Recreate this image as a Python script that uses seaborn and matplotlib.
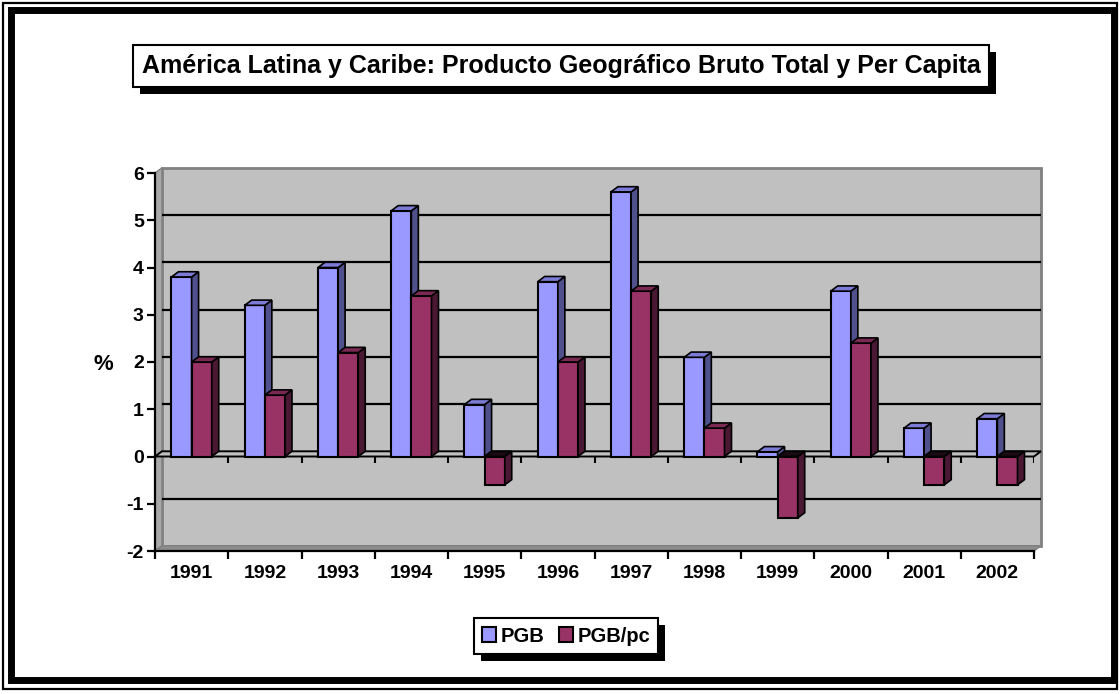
import numpy as np
import pandas as pd
import matplotlib.pyplot as plt
import seaborn as sns
from matplotlib.patches import Polygon, Rectangle, Patch

# ---------------- DATA ----------------
years = ["1991", "1992", "1993", "1994", "1995", "1996",
         "1997", "1998", "1999", "2000", "2001", "2002"]
pgb = [3.8, 3.2, 4.0, 5.2, 1.1, 3.7, 5.6, 2.1, 0.1, 3.5, 0.6, 0.8]
pgb_pc = [2.0, 1.3, 2.2, 3.4, -0.6, 2.0, 3.5, 0.6, -1.3, 2.4, -0.6, -0.6]
series = ["PGB", "PGB/pc"]
title = "América Latina y Caribe: Producto Geográfico Bruto Total y Per Capita"

front_colors = ["#9999FF", "#993366"]
side_colors = ["#50508C", "#4A1832"]
top_colors = ["#7C7CD6", "#7A2952"]

df = pd.DataFrame({
    "year": years * 2,
    "value": pgb + pgb_pc,
    "serie": [series[0]] * len(years) + [series[1]] * len(years),
})

# ---------------- STYLE ----------------
sns.set_theme(style="white")
plt.rcParams["font.family"] = ["Liberation Sans", "DejaVu Sans"]
plt.rcParams["font.weight"] = "bold"
plt.rcParams["axes.unicode_minus"] = False
plt.rcParams["text.color"] = "black"
plt.rcParams["xtick.color"] = "black"
plt.rcParams["ytick.color"] = "black"
plt.rcParams["xtick.labelcolor"] = "black"
plt.rcParams["ytick.labelcolor"] = "black"

W, H = 1120, 694
fig = plt.figure(figsize=(W / 100, H / 100), dpi=100)
fig.patch.set_facecolor("white")

def fx(px):
    return px / W

def fy(py):
    return 1 - py / H

def frame(x0, y0, x1, y1, lw):
    fig.patches.append(Rectangle((fx(x0), fy(y1)), fx(x1) - fx(x0), (y1 - y0) / H,
                                 transform=fig.transFigure, fill=False, ec="black",
                                 lw=lw, zorder=-5, joinstyle="miter"))

# outer double frame: thin outside, thick inside
frame(3, 3, 1117, 689, 1.6)
frame(11, 10, 1114, 680, 5.0)

ax = fig.add_axes([fx(155), fy(551), fx(1034) - fx(155), fy(173) - fy(551)])
ax.set_facecolor("none")

sns.barplot(data=df, x="year", y="value", hue="serie", palette=front_colors,
            saturation=1, width=0.55, edgecolor="black", linewidth=1.5, ax=ax,
            legend=False)

n = len(years)
ax.set_xlim(-0.5, n - 0.5)
ax.set_ylim(-2, 6)

# depth of the 3D effect, in data units
dx, dy = 0.095, 0.11
xl, xr = -0.5, n - 0.5

# back wall, left wall and floor
ax.add_patch(Rectangle((xl + dx, -2 + dy), n, 8, fc="#C0C0C0", ec="#808080",
                       lw=2, zorder=0, clip_on=False))
ax.add_patch(Polygon([(xl, -2), (xl + dx, -2 + dy), (xl + dx, 6 + dy), (xl, 6)],
                     closed=True, fc="#A8A8A8", ec="#808080", lw=1, zorder=0.5, clip_on=False))
ax.add_patch(Polygon([(xl, -2), (xr, -2), (xr + dx, -2 + dy), (xl + dx, -2 + dy)],
                     closed=True, fc="#8C8C8C", ec="#808080", lw=1, zorder=0.5, clip_on=False))

for g in [-1, 1, 2, 3, 4, 5]:
    ax.plot([xl + dx, xr + dx], [g + dy, g + dy], color="black", lw=1.6, zorder=1,
            clip_on=False, solid_capstyle="butt")

# floor at zero
ax.add_patch(Polygon([(xl, 0), (xr, 0), (xr + dx, dy), (xl + dx, dy)], closed=True,
                     fc="#C0C0C0", ec="black", lw=1.4, zorder=1.5, clip_on=False))
bounds = np.arange(-0.5, n, 1.0)
ax.vlines(bounds, -0.13, 0, color="black", lw=1.5, zorder=1.5)

# 3D faces of the bars
for i, cont in enumerate(ax.containers):
    for bar in cont:
        bar.set_zorder(3 + i * 0.2)
        x0, w = bar.get_x(), bar.get_width()
        y0, h = bar.get_y(), bar.get_height()
        lo, hi = min(y0, y0 + h), max(y0, y0 + h)
        side = Polygon([(x0 + w, lo), (x0 + w + dx, lo + dy), (x0 + w + dx, hi + dy), (x0 + w, hi)],
                       closed=True, fc=side_colors[i], ec="black", lw=1.2, zorder=3.1 + i * 0.2)
        top_c = top_colors[i] if h >= 0 else "#1A0A12"
        top = Polygon([(x0, hi), (x0 + dx, hi + dy), (x0 + w + dx, hi + dy), (x0 + w, hi)],
                      closed=True, fc=top_c, ec="black", lw=1.2, zorder=3.1 + i * 0.2)
        ax.add_patch(side)
        ax.add_patch(top)

# axes
for s in ["top", "right"]:
    ax.spines[s].set_visible(False)
for s in ["left", "bottom"]:
    ax.spines[s].set_color("black")
    ax.spines[s].set_linewidth(1.6)
    ax.spines[s].set_zorder(2)

ax.set_yticks(range(-2, 7))
ax.set_xticks(range(n))
ax.set_xticklabels(years)
ax.set_xticks(bounds, minor=True)
ax.tick_params(axis="y", which="major", direction="out", length=6, width=1.6,
               color="black", labelcolor="black", labelsize=14, pad=2, left=True)
ax.tick_params(axis="x", which="major", length=0, labelsize=14, pad=10, labelcolor="black")
ax.tick_params(axis="x", which="minor", direction="out", length=6, width=1.6,
               color="black", bottom=True)
for lab in ax.get_xticklabels() + ax.get_yticklabels():
    lab.set_fontweight("bold")
ax.set_xlabel("")
ax.set_ylabel("")
ax.grid(False)

fig.text(fx(103), fy(365), "%", ha="center", va="center", fontsize=16,
         fontweight="bold", color="black")

# title box
t = fig.text(fx(561), fy(66), title, ha="center", va="center", fontsize=18,
             fontweight="bold", color="black", zorder=3,
             bbox=dict(boxstyle="square,pad=0.35", fc="white", ec="black", lw=1.5))

# legend
handles = [Patch(fc=c, ec="black", lw=1.5) for c in front_colors]
leg = fig.legend(handles, series, loc="center", bbox_to_anchor=(fx(566), fy(636)),
                 ncol=2, frameon=True, fancybox=False, edgecolor="black", framealpha=1,
                 handlelength=0.7, handleheight=0.7, handletextpad=0.25,
                 columnspacing=0.7, borderpad=0.4, labelcolor="black",
                 prop={"size": 14.5, "weight": "bold"})
leg.get_frame().set_linewidth(1.5)
leg.set_zorder(3)

# drop shadows for title and legend boxes
fig.canvas.draw()
inv = fig.transFigure.inverted()
for bb in [t.get_bbox_patch().get_window_extent(), leg.get_frame().get_window_extent()]:
    (x0, y0), (x1, y1) = inv.transform([[bb.x0 + 7, bb.y0 - 7], [bb.x1 + 7, bb.y1 - 7]])
    fig.patches.append(Rectangle((x0, y0), x1 - x0, y1 - y0, transform=fig.transFigure,
                                 fc="black", ec="none", zorder=1))

fig.savefig("out.png", dpi=100)
